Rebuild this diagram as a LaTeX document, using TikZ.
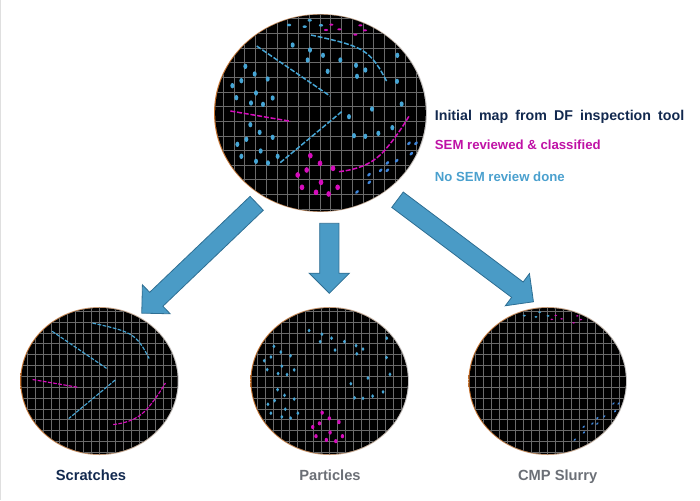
\documentclass[tikz,border=0pt]{standalone}
\usepackage{fontspec}
\setmainfont{Liberation Sans}
\newfontfamily\headfont[WordSpace=1.8]{Liberation Sans}
\usetikzlibrary{shapes.geometric,shapes.arrows}

\definecolor{navyText}{HTML}{12294F}
\definecolor{grayText}{HTML}{6B6F76}
\definecolor{magentaMark}{HTML}{D60CBC}
\definecolor{magentaText}{HTML}{BF12A6}
\definecolor{blueMark}{HTML}{46A6D6}
\definecolor{blueText}{HTML}{4AA0CE}
\definecolor{slurryMark}{HTML}{3F86DC}
\definecolor{arrowFill}{HTML}{4A9BC6}
\definecolor{arrowEdge}{HTML}{2F6F93}
\definecolor{rimOrange}{HTML}{C4702C}
\definecolor{gridGray}{HTML}{6A6A6A}

\tikzset{
	waferdisc/.style={ellipse, inner sep=0pt, outer sep=0pt, left color=rimOrange, right color=gray!45},
	gridline/.style={draw=gridGray, line width=0.65pt},
	scratchline/.style={line width=1.5pt, line cap=butt, dash pattern=on 5pt off 1.8pt},
	smallmap/.style={
		gridline/.append style={line width=0.5pt},
		scratchline/.append style={line width=1.15pt, dash pattern=on 3.8pt off 1.4pt}},
	blockarrow/.style={single arrow, fill=arrowFill, draw=arrowEdge, line width=0.8pt,
		inner xsep=0pt, inner ysep=9.2pt, outer sep=0pt,
		single arrow head extend=10.5pt, anchor=tail},
	headlabel/.style={anchor=west, inner sep=0pt, font=\headfont\bfseries\fontsize{14.2}{17}\selectfont},
	keylabel/.style={anchor=west, inner sep=0pt, font=\bfseries\fontsize{13.2}{16}\selectfont},
	waferlabel/.style={anchor=base, inner sep=0pt, font=\bfseries\fontsize{14.7}{17}\selectfont}
}

% Marks on the map, in one frame for all four wafers
\newcommand{\topblue}{252/60, 314/46, 299/65, 348/61}
\newcommand{\topmagenta}{379/59, 363/75, 403/73, 466/61, 480/76, 451/89}
\newcommand{\slurryspots}{612/415, 633/415, 619/446, 575/467, 547/474, 527/496, 547/496, 492/509, 493/532, 456/561}
\newcommand{\magentaspots}{316/452, 345/475, 384/490, 305/495, 278/510, 348/532, 291/547, 398/547, 333/562, 371/567}
\newcommand{\bluespots}{263/120, 315/135, 354/151, 308/165, 406/165, 453/181, 481/195, 456/214, 368/199,
	577/151, 576/229, 590/297, 501/312, 432/335, 562/368, 520/385, 481/394, 447/392,
	121/184, 149/207, 109/227, 188/222, 82/242, 153/264, 94/278, 203/279, 138/294, 174/298,
	136/359, 164/382, 124/403, 203/397, 97/418, 167/438, 109/454, 153/469, 189/474, 218/454}

\newcommand{\wafergrid}{
	\fill[black] (346.5,324) ellipse [x radius=316, y radius=295];
	\begin{scope}
		\clip (346.5,324) ellipse [x radius=316, y radius=295];
		\foreach \k in {0,...,19} \draw[gridline] ({55+32.2*\k},0) -- ({55+32.2*\k},650);
		\foreach \k in {0,...,13} \draw[gridline] (0,{41.4+43.9*\k}) -- (700,{41.4+43.9*\k});
	\end{scope}
}
\newcommand{\scratchmarks}{
	\draw[scratchline, blueMark] (155,123) -- (375,273);
	\draw[scratchline, blueMark] (410,320) -- (222,476);
	\draw[scratchline, blueMark] (318,90) .. controls (400,108) and (440,118) .. (470,135) .. controls (505,155) and (525,190) .. (547,233);
	\draw[scratchline, magentaMark] (76,318) -- (257,349);
	\draw[scratchline, magentaMark] (402,500) .. controls (470,492) and (510,470) .. (540,435) .. controls (570,400) and (590,370) .. (613,332);
}
\newcommand{\particlemarks}{
	\foreach \x/\y in \bluespots \fill[blueMark] (\x,\y) ellipse [x radius=6, y radius=8];
	\foreach \x/\y in \magentaspots \fill[magentaMark] (\x,\y) ellipse [x radius=7, y radius=8.5];
}
\newcommand{\slurrymarks}{
	\foreach \x/\y in \topblue \fill[blueMark] (\x,\y) ellipse [x radius=6.5, y radius=4];
	\foreach \x/\y in \topmagenta \fill[magentaMark] (\x,\y) ellipse [x radius=6, y radius=3.2];
	\foreach \x/\y in \slurryspots \fill[slurryMark, rotate around={45:(\x,\y)}] (\x,\y) ellipse [x radius=6.5, y radius=4];
}

\begin{document}
\begin{tikzpicture}[x=1pt, y=-1pt]
	\useasboundingbox (0,0) rectangle (700,500);
	\draw[gray!25, line width=1pt] (0,500) -- (0,0) -- (700,0);

	% Wafers
	\node[waferdisc, minimum width=213pt, minimum height=198pt] (mainMap) at (320.5,113) {};
	\node[waferdisc, minimum width=158.5pt, minimum height=148pt] (scratchMap) at (99.5,381) {};
	\node[waferdisc, minimum width=158.5pt, minimum height=148pt] (particleMap) at (329.7,381) {};
	\node[waferdisc, minimum width=158.5pt, minimum height=148pt] (slurryMap) at (547.7,381) {};

	\begin{scope}[shift={(320.5,113)}, scale=0.3333, shift={(-346.5,-324)}]
		\wafergrid
		\scratchmarks
		\particlemarks
		\slurrymarks
	\end{scope}
	\begin{scope}[smallmap, shift={(99.5,381)}, scale=0.2475, shift={(-346.5,-324)}]
		\wafergrid
		\scratchmarks
	\end{scope}
	\begin{scope}[smallmap, shift={(329.7,381)}, scale=0.2475, shift={(-346.5,-324)}]
		\wafergrid
		\particlemarks
	\end{scope}
	\begin{scope}[smallmap, shift={(547.7,381)}, scale=0.2475, shift={(-346.5,-324)}]
		\wafergrid
		\slurrymarks
	\end{scope}

	% Arrows
	\node[blockarrow, minimum height=159pt, rotate=223.7] (toScratches) at (256.7,203.3) {};
	\node[blockarrow, minimum height=70pt, rotate=270] (toParticles) at (329.3,223.3) {};
	\node[blockarrow, minimum height=170pt, rotate=-36.9] (toSlurry) at (397.5,199.7) {};

	% Labels
	\node[headlabel, navyText] (headLabel) at (434.7,117.3) {Initial map from DF inspection tool};
	\node[keylabel, magentaText] (semLabel) at (434.7,144.7) {SEM reviewed \& classified};
	\node[keylabel, blueText] (noSemLabel) at (434.7,176.7) {No SEM review done};
	\node[waferlabel, navyText] (scratchLabel) at (91,480.3) {Scratches};
	\node[waferlabel, grayText] (particleLabel) at (330,480.3) {Particles};
	\node[waferlabel, grayText] (slurryLabel) at (557.7,480.3) {CMP Slurry};
\end{tikzpicture}
\end{document}
